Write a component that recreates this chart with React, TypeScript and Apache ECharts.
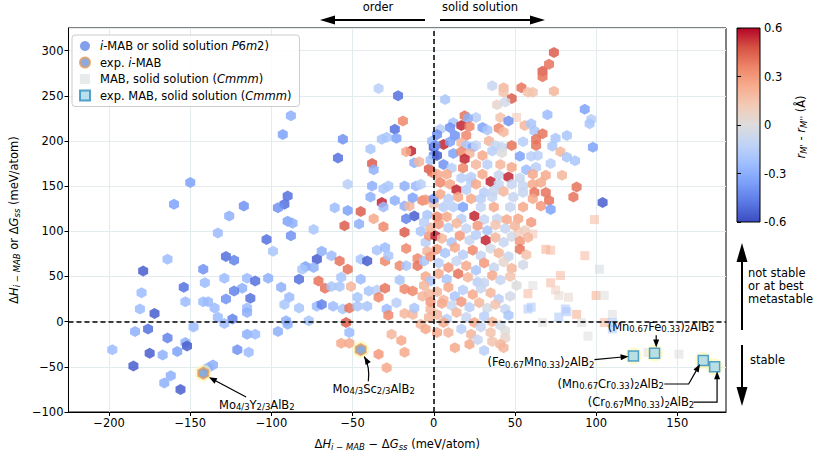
import React, { useEffect, useRef } from "react";
import * as echarts from "echarts";

// ---------- data ----------
const xTickValues = [-200, -150, -100, -50, 0, 50, 100, 150];
const colorbarTickLabels = ["-0.6", "-0.3", "0", "0.3", "0.6"];
const coolwarm = ["#3b4cc0", "#5a78e4", "#7b9ff9", "#9ebeff", "#c0d4f5", "#dddcdc", "#f2cbb7", "#f7ac8e", "#ee8468", "#d65244", "#b40426"];

// [ΔH_i-MAB − ΔG_ss, ΔH_i-MAB or ΔG_ss, r_M' − r_M'']
const iMabLeft = [
  [-150,154,-0.35],[-160,130,-0.35],[-126,117,-0.3],[-117,128,-0.4],
  [-133,98,-0.25],[-164,69,-0.25],[-179,56,-0.55],[-128,72,-0.5],[-123,68,-0.45],[-142,58,-0.4],[-129,48,-0.25],[-115,48,-0.25],[-141,43,-0.25],[-154,38,-0.5],[-118,37,-0.3],[-180,32,-0.25],[-123,34,-0.45],[-153,22,-0.25],[-142,22,-0.25],[-139,22,-0.25],[-128,25,-0.4],[-113,26,-0.5],[-181,14,-0.25],[-172,9,-0.55],[-135,15,-0.25],[-115,15,-0.25],[-115,10,-0.3],[-133,5,-0.25],[-124,3,-0.45],[-129,-2,-0.25],[-148,-6,-0.25],[-176,-8,-0.5],[-184,-11,-0.3],[-164,-18,-0.45],[-115,-14,-0.3],[-153,-23,-0.3],[-152,-27,-0.55],[-198,-31,-0.25],[-175,-35,-0.55],[-167,-37,-0.3],[-158,-33,-0.35],[-121,-31,-0.4],[-114,-34,-0.25],[-185,-49,-0.55],[-136,-48,-0.3],[-139,-51,-0.3],[-162,-60,-0.3],[-166,-68,-0.3],[-156,-75,-0.55],
];
const iMabMidUpper = [
  [-34,258,-0.15],[-22,250,-0.5],[-88,228,-0.3],[-93,207,-0.35],[-19,222,0.35],[-24,213,-0.5],[-56,202,-0.4],[-32,202,-0.2],[-29,204,-0.2],[-23,203,-0.35],[-39,191,-0.2],[-59,181,-0.5],[-14,189,0.55],[-17,188,0.25],[-38,175,0.45],[-37,168,-0.3],[-12,176,-0.3],[-9,177,0.2],[-3,169,0.45],[-1,165,0.4],[-53,152,-0.15],[-38,150,-0.3],[-31,147,-0.2],[-28,150,-0.2],[-18,150,-0.3],[-11,150,-0.25],[-8,152,-0.15],[-90,139,-0.5],[-92,130,-0.5],[-96,126,-0.4],[-61,126,-0.25],[-53,123,-0.35],[-45,122,0.45],[-39,138,-0.3],[-32,132,0.55],[-31,127,-0.25],[-24,134,-0.3],[-18,128,-0.3],[-15,128,0.2],[-13,137,-0.35],[-12,117,-0.55],[-17,114,-0.45],[-7,134,0.35],[-5,135,0.3],[0,130,0.15],[-90,111,-0.35],[-87,109,-0.3],[-37,114,0.25],[-46,108,-0.3],[-55,106,0.45],[-4,118,-0.2],[-1,200,-0.25],[0,193,-0.55],[0,184,-0.4],[-2,179,-0.2],
];
const iMabMidLower = [
  [-103,91,-0.5],[-88,95,-0.4],[-74,102,-0.2],[-99,78,-0.2],[-69,78,-0.3],[-72,69,-0.55],[-63,73,-0.25],[-58,67,0.4],[-45,69,-0.2],[-41,67,-0.55],[-35,79,-0.2],[-30,82,-0.25],[-30,67,0.35],[-28,73,-0.2],[-31,105,0.35],[-21,62,0.35],[-17,81,0.35],[-17,62,-0.2],[-10,70,0.35],[-10,62,0.4],[-6,67,-0.2],[-18,99,0.45],[-79,61,-0.35],[-74,60,-0.3],[-81,58,-0.2],[-83,47,-0.5],[-71,45,0.4],[-67,37,0.4],[-63,39,-0.2],[-58,39,-0.2],[-57,49,-0.2],[-53,58,0.4],[-51,39,0.2],[-45,47,-0.25],[-40,34,-0.2],[-35,35,-0.15],[-30,37,0.4],[-21,46,-0.2],[-18,36,0.35],[-13,34,0.35],[-7,28,0.2],[-3,31,0.2],[-102,48,-0.3],[-110,45,-0.5],[-94,38,-0.3],[-89,27,-0.25],[-92,19,-0.2],[-83,15,-0.2],[-72,17,-0.25],[-69,19,-0.45],[-62,17,-0.25],[-56,14,-0.2],[-52,15,0.4],[-47,27,-0.2],[-47,17,-0.2],[-41,17,-0.2],[-34,27,0.35],[-29,14,-0.25],[-23,21,-0.15],[-28,7,0.35],[-18,9,0.2],[-13,8,0.2],[-12,15,-0.2],[-2,14,0.2],[-3,5,0.2],[-91,1,-0.3],[-90,-3,-0.3],[-77,1,-0.2],[-96,-11,-0.3],[-110,-14,-0.25],[-54,-1,0.45],[-52,-12,-0.25],[-8,-3,0.2],[-26,-14,0.2],[-20,-21,0.25],[-57,-24,0.25],[-52,-24,0.25],[-34,-36,0.3],[-18,-34,0.25],[-29,-51,0.25],
  [-5,88,-0.15],[-3,95,0.3],[-8,100,-0.2],[-2,104,0.2],[-6,110,-0.15],[-4,78,0.2],[-2,72,0.3],[-5,50,0.25],[-2,45,-0.2],[-6,40,0.2],[-2,22,0.3],[-5,-8,0.25],
];
const iMabRightUpper = [
  [74,298,0.45],[71,285,0.4],[67,277,0.45],[67,271,0.4],[36,261,-0.1],[43,259,0.2],[43,254,0.15],[54,259,0.4],[58,254,0.15],[61,254,0.15],[74,255,0.2],[48,247,0.45],[7,246,-0.2],[39,240,0.05],[44,243,-0.05],[93,235,-0.35],[97,224,-0.15],[96,219,-0.2],[70,229,-0.25],[19,228,0.4],[26,226,-0.15],[21,225,-0.3],[41,226,0.15],[46,222,-0.4],[12,220,-0.2],[17,217,0.55],[22,216,0.35],[10,215,-0.4],[30,215,-0.35],[33,212,-0.2],[56,217,0.2],[60,219,-0.2],[40,214,0.35],[43,210,0.2],[62,211,-0.2],[67,208,0.4],[82,206,-0.2],[75,203,-0.2],[4,213,-0.15],[13,206,-0.4],[20,206,0.35],[2,207,-0.4],[63,202,0.4],[6,196,0.55],[1,195,-0.4],[10,199,-0.35],[17,198,0.2],[20,195,-0.2],[24,193,-0.35],[26,195,-0.1],[34,200,0.2],[38,195,-0.1],[42,193,-0.1],[48,195,0.4],[55,199,-0.15],[63,195,0.4],[73,194,-0.2],[98,193,-0.35],[2,184,-0.55],[12,186,-0.35],[17,188,0.35],[22,186,0.2],[30,184,0.25],[36,189,-0.15],[42,187,0.0],[53,183,-0.35],[60,183,-0.15],[64,184,-0.15],[78,188,0.2],[82,182,-0.2],[87,178,-0.2],[19,180,0.55],[6,174,-0.4],[11,170,-0.15],[18,170,0.35],[26,174,0.2],[33,174,-0.15],[41,174,0.2],[48,171,0.25],[57,168,-0.25],[63,171,-0.15],[72,175,-0.15],[2,163,0.25],[8,163,0.25],[17,159,-0.15],[23,160,-0.15],[30,163,0.25],[40,162,-0.1],[46,160,0.55],[53,159,-0.1],[61,163,0.25],[69,162,0.25],[79,162,0.2],[4,154,0.35],[10,152,0.25],[23,155,-0.15],[26,152,0.25],[35,155,0.55],[40,152,-0.1],[48,152,-0.1],[55,150,-0.1],[61,152,0.25],[66,154,0.25],[88,149,0.4],[14,146,0.55],[20,146,-0.15],[31,143,-0.15],[37,145,-0.1],[43,144,0.2],[55,143,-0.1],[62,143,0.4],[69,143,0.4],[86,138,0.4],[0,136,-0.4],[4,141,0.25],[9,136,-0.15],[15,138,0.25],[23,136,0.25],[29,136,-0.15],[36,138,-0.1],[49,138,-0.1],[61,136,0.25],[71,134,0.4],[104,132,-0.55],[6,127,-0.15],[12,127,-0.15],[18,127,-0.35],[29,127,-0.1],[37,127,0.25],[47,127,-0.1],[55,127,0.25],[66,128,0.3],[72,124,-0.35],[2,116,0.35],[8,116,0.25],[17,114,-0.15],[25,117,0.55],[31,113,-0.1],[39,114,-0.1],[45,113,0.25],[52,114,0.25],[60,110,0.3],
];
const iMabCluster = [
  [3,108,0.3],[9,104,-0.15],[14,109,0.2],[20,103,-0.1],[27,106,0.3],[33,101,-0.2],[38,107,0.15],[44,103,-0.1],[50,106,0.2],[56,101,0.1],[1,95,0.55],[32,90,0.55],
  [5,92,0.2],[11,88,-0.2],[16,95,0.3],[22,90,-0.1],[26,96,-0.15],[38,93,0.2],[43,88,-0.1],[48,94,-0.05],[53,89,0.3],[58,93,0.2],
  [2,80,0.3],[7,76,-0.2],[13,82,0.25],[18,74,-0.15],[24,79,0.35],[29,73,-0.1],[35,81,-0.05],[40,76,0.2],[46,72,-0.1],[53,80,0.4],[57,74,0.15],
  [3,65,-0.15],[9,60,0.3],[14,67,-0.1],[20,62,0.25],[26,57,-0.2],[31,65,0.3],[37,60,-0.1],[43,66,0.05],[48,59,0.2],[55,63,-0.05],
  [3,53,0.25],[15,53,0.4],[8,47,-0.2],[21,49,0.2],[27,44,-0.15],[31,43,-0.1],[36,51,0.25],[41,46,-0.1],[47,50,0.15],[51,40,0.0],[9,38,0.25],[13,28,-0.2],[47,28,-0.05],
  [2,33,0.2],[18,35,-0.15],[24,30,0.25],[29,37,-0.1],[35,32,0.2],[40,25,-0.15],[6,24,0.2],[11,18,-0.1],[17,22,0.3],[22,16,-0.15],[28,21,0.2],[33,15,-0.05],[38,19,0.15],[44,14,-0.1],[5,20,0.25],[46,7,-0.2],
  [2,8,0.2],[8,3,-0.15],[14,10,0.2],[20,5,-0.1],[25,-1,0.25],[31,6,-0.15],[36,0,0.2],[41,-4,-0.05],[6,-1,0.25],[2,-12,0.25],[9,-12,0.2],[17,-8,-0.15],[23,-14,0.2],[29,-6,-0.1],[35,-12,0.15],[44,-10,0.0],[44,-18,0.05],
  [41,-25,0.2],[43,-29,0.2],[31,-32,-0.15],[22,-25,0.25],[13,-29,0.25],[27,-20,-0.1],[36,-22,0.15],
];
const mabPoints = [
  [51,226,0.15],[99,113,0.2],[52,98,0.2],[61,97,0.15],[69,80,0.25],[72,79,0.2],[93,73,0.2],[102,58,-0.05],[78,51,0.2],[72,43,0.2],[61,40,0.0],[75,35,0.1],[77,29,0.05],[83,27,0.05],[58,31,0.2],[100,29,0.25],[105,29,0.0],[60,16,-0.2],[58,14,-0.2],[81,14,-0.2],[82,11,-0.2],[77,5,-0.2],[88,8,0.25],[67,-1,0.0],[91,-1,0.0],[105,-1,0.2],[110,8,0.0],[110,-1,-0.2],[110,-8,-0.2],[95,-16,0.0],[132,-34,0.0],[151,-36,0.0],
];
const expIMab = [[-142,-57,-0.3],[-45,-31,-0.3]];
const expMab = [[123,-38,0],[136,-35,0],[166,-43,0],[173,-50,0]];

// annotation anchors in data coordinates
const annotations = [
  { text: "{n|Mo}{s|4/3}{n|Y}{s|2/3}{n|AlB}{s|2}", at: [-109, -92], arrow: [[-115.6, -83.5], [-138.5, -61.5]] },
  { text: "{n|Mo}{s|4/3}{n|Sc}{s|2/3}{n|AlB}{s|2}", at: [-37, -74], curve: [[-40.3, -66], [-39.2, -50], [-42.8, -38.5]] },
  { text: "{n|(Mn}{s|0.67}{n|Fe}{s|0.33}{n|)}{s|2}{n|AlB}{s|2}", at: [140, -5.5], arrow: [[137, -15], [137, -28.5]] },
  { text: "{n|(Fe}{s|0.67}{n|Mn}{s|0.33}{n|)}{s|2}{n|AlB}{s|2}", at: [66, -45], arrow: [[99, -42], [120, -38.5]] },
  { text: "{n|(Mn}{s|0.67}{n|Cr}{s|0.33}{n|)}{s|2}{n|AlB}{s|2}", at: [109, -69], arrow: [[142, -69], [157, -69], [164, -47]] },
  { text: "{n|(Cr}{s|0.67}{n|Mn}{s|0.33}{n|)}{s|2}{n|AlB}{s|2}", at: [127.6, -89], arrow: [[160, -89], [174.5, -89], [174.5, -55]] },
];

const FONT = "DejaVu Sans";
const FS = 11.5;
const hexPath = "path://M0,-10L8.66,-5L8.66,5L0,10L-8.66,5L-8.66,-5Z";
const squarePath = "path://M0,0L10,0L10,10L0,10Z";

const richBase = {
  n: { fontFamily: FONT, fontSize: FS, lineHeight: 14, color: "#000" },
  i: { fontFamily: FONT, fontSize: FS, lineHeight: 14, fontStyle: "italic", color: "#000" },
  s: { fontFamily: FONT, fontSize: 8.5, lineHeight: 6, verticalAlign: "bottom", color: "#000" },
  si: { fontFamily: FONT, fontSize: 8.5, lineHeight: 6, verticalAlign: "bottom", fontStyle: "italic", color: "#000" },
};

const legendNames: Record<string, string> = {
  iMAB: "{i|i}{n|-MAB or solid solution }{i|P}{n|6\u0304}{i|m}{n|2)}",
  expiMAB: "{n|exp. }{i|i}{n|-MAB}",
  MAB: "{n|MAB, solid solution (}{i|Cmmm}{n|)}",
  expMAB: "{n|exp. MAB, solid solution (}{i|Cmmm}{n|)}",
};

function minusFmt(v: number) {
  return v < 0 ? "\u2212" + Math.abs(v) : String(v);
}

function arrowHead(tip: number[], from: number[], len: number, w: number) {
  const dx = tip[0] - from[0], dy = tip[1] - from[1];
  const d = Math.hypot(dx, dy) || 1;
  const ux = dx / d, uy = dy / d;
  const bx = tip[0] - ux * len, by = tip[1] - uy * len;
  return {
    type: "polygon", silent: true, z: 100,
    shape: { points: [[tip[0], tip[1]], [bx - uy * w / 2, by + ux * w / 2], [bx + uy * w / 2, by - ux * w / 2]] },
    style: { fill: "#000" },
  };
}

function arrowLine(pts: number[][], len: number, w: number, lw: number) {
  const n = pts.length;
  const tip = pts[n - 1], prev = pts[n - 2];
  const dx = tip[0] - prev[0], dy = tip[1] - prev[1];
  const d = Math.hypot(dx, dy) || 1;
  const end = [tip[0] - (dx / d) * len * 0.8, tip[1] - (dy / d) * len * 0.8];
  const linePts = pts.slice(0, n - 1).concat([end]);
  return [
    { type: "polyline", silent: true, z: 100, shape: { points: linePts }, style: { stroke: "#000", lineWidth: lw, fill: null } },
    arrowHead(tip, prev, len, w),
  ];
}

export default function App() {
  const ref = useRef<HTMLDivElement>(null);
  useEffect(() => {
    if (!ref.current) return;
    document.body.style.margin = "0";
    const chart = echarts.init(ref.current, null, { renderer: "svg" });
    const iMabAll = [...iMabLeft, ...iMabMidUpper, ...iMabMidLower, ...iMabRightUpper, ...iMabCluster];
    const option: any = {
      animation: false,
      textStyle: { fontFamily: FONT },
      grid: [
        { left: 67, right: 91, top: 28, bottom: 42, show: true, borderColor: "#000", borderWidth: 1, backgroundColor: "transparent" },
        {
          left: 737, width: 23, top: 28, height: 194, show: true, borderColor: "#000", borderWidth: 1,
          backgroundColor: new echarts.graphic.LinearGradient(0, 0, 0, 1, coolwarm.slice().reverse().map((c, k) => ({ offset: k / (coolwarm.length - 1), color: c }))),
        },
      ],
      xAxis: [
        {
          type: "value", min: -225, max: 180, gridIndex: 0,
          axisLine: { show: true, onZero: false, lineStyle: { color: "#000" } },
          axisTick: { show: true, length: 4, customValues: xTickValues, lineStyle: { color: "#000" } },
          axisLabel: { customValues: xTickValues, formatter: minusFmt, color: "#000", fontSize: FS, fontFamily: FONT, margin: 5 },
          splitLine: { show: true, lineStyle: { color: "#e2ebee", width: 1 } },
          name: "{n|Δ}{i|H}{si|i − MAB}{n| − Δ}{i|G}{si|ss}{n| (meV/atom)}",
          nameLocation: "middle", nameGap: 25,
          nameTextStyle: { rich: richBase },
        },
        { type: "value", gridIndex: 1, show: false, min: 0, max: 1 },
      ],
      yAxis: [
        {
          type: "value", min: -100, max: 325, interval: 50, gridIndex: 0,
          axisLine: { show: true, onZero: false, lineStyle: { color: "#000" } },
          axisTick: { show: true, length: 4, lineStyle: { color: "#000" } },
          axisLabel: { formatter: minusFmt, color: "#000", fontSize: FS, fontFamily: FONT, margin: 5, showMaxLabel: false },
          splitLine: { show: true, lineStyle: { color: "#e2ebee", width: 1 } },
          name: "{n|Δ}{i|H}{si|i − MAB}{n| or Δ}{i|G}{si|ss}{n| (meV/atom)}",
          nameLocation: "middle", nameGap: 40, nameRotate: 90,
          nameTextStyle: { rich: richBase },
        },
        {
          type: "value", gridIndex: 1, position: "right", min: -0.6, max: 0.6, interval: 0.3,
          axisLine: { show: false },
          axisTick: { show: true, length: 4, lineStyle: { color: "#000" } },
          splitLine: { show: false },
          axisLabel: {
            color: "#000", fontSize: FS, fontFamily: FONT, margin: 4,
            formatter: (v: number) => colorbarTickLabels[Math.round((v + 0.6) / 0.3)] ?? "",
          },
        },
      ],
      visualMap: {
        show: false, type: "continuous", min: -0.6, max: 0.6, dimension: 2, seriesIndex: [0, 1],
        inRange: { color: coolwarm },
      },
      legend: {
        left: 72, top: 35, orient: "vertical",
        backgroundColor: "rgba(255,255,255,0.85)", borderColor: "#cccccc", borderWidth: 1, borderRadius: 3,
        padding: [5, 8, 5, 7], itemWidth: 20, itemHeight: 10, itemGap: 4.5,
        data: [
          { name: "iMAB", icon: "circle" },
          { name: "expiMAB", icon: "circle" },
          { name: "MAB", icon: squarePath },
          { name: "expMAB", icon: squarePath },
        ],
        formatter: (name: string) => legendNames[name] || name,
        textStyle: { fontFamily: FONT, fontSize: FS, color: "#000", rich: richBase },
      },
      series: [
        {
          name: "MAB", type: "scatter", xAxisIndex: 0, yAxisIndex: 0, symbol: "rect", symbolSize: 9,
          itemStyle: { color: "#d6dbdc", opacity: 0.55 },
          data: mabPoints, z: 2,
        },
        {
          name: "iMAB", type: "scatter", xAxisIndex: 0, yAxisIndex: 0, symbol: hexPath, symbolSize: [10, 11],
          itemStyle: { color: "#6d8ee8", opacity: 0.85 },
          data: iMabAll, z: 3,
        },
        {
          name: "halo", type: "scatter", xAxisIndex: 0, yAxisIndex: 0, symbol: "circle", symbolSize: 17,
          itemStyle: { color: "rgba(255,246,170,0.75)" }, silent: true,
          data: [...expIMab, ...expMab], z: 3,
        },
        {
          name: "expiMAB", type: "scatter", xAxisIndex: 0, yAxisIndex: 0, symbol: hexPath, symbolSize: [10, 11],
          itemStyle: { color: "#6f97d8", borderColor: "#e69a5c", borderWidth: 2 },
          data: expIMab, z: 4,
        },
        {
          name: "expMAB", type: "scatter", xAxisIndex: 0, yAxisIndex: 0, symbol: "rect", symbolSize: 10,
          itemStyle: { color: "#a6d8ea", borderColor: "#2e8dbf", borderWidth: 1.5 },
          data: expMab, z: 4,
          markLine: {
            silent: true, symbol: "none", animation: false,
            label: { show: false },
            lineStyle: { color: "#000", type: [5, 3], width: 1.5 },
            data: [{ xAxis: 0 }, { yAxis: 0 }],
          },
        },
      ],
    };
    chart.setOption(option);

    const toPx = (p: number[]) => chart.convertToPixel({ gridIndex: 0 }, p) as number[];
    const graphics: any[] = [];
    annotations.forEach((a) => {
      const c = toPx(a.at);
      graphics.push({
        type: "text", silent: true, z: 100, x: c[0], y: c[1],
        style: { text: a.text, rich: richBase, align: "center", verticalAlign: "middle" },
      });
      if (a.arrow) graphics.push(...arrowLine(a.arrow.map(toPx), 8, 6, 1.2));
      if (a.curve) {
        const [p1, cp, p2] = a.curve.map(toPx);
        graphics.push({ type: "bezierCurve", silent: true, z: 100, shape: { x1: p1[0], y1: p1[1], cpx1: cp[0], cpy1: cp[1], x2: p2[0], y2: p2[1] }, style: { stroke: "#000", lineWidth: 1.2, fill: null } });
        graphics.push(arrowHead(p2, cp, 8, 6));
      }
    });
    // top direction arrows
    graphics.push(...arrowLine([[425, 20], [320, 20]], 15, 9, 2));
    graphics.push(...arrowLine([[440, 20], [545, 20]], 15, 9, 2));
    graphics.push({ type: "text", silent: true, x: 378, y: 7, style: { text: "order", font: `${FS}px "${FONT}"`, fill: "#000", align: "center", verticalAlign: "middle" } });
    graphics.push({ type: "text", silent: true, x: 480, y: 7, style: { text: "solid solution", font: `${FS}px "${FONT}"`, fill: "#000", align: "center", verticalAlign: "middle" } });
    // right stability arrows
    graphics.push(...arrowLine([[742, 330], [742, 243]], 19, 11, 2));
    graphics.push(...arrowLine([[742, 345], [742, 406]], 19, 11, 2));
    graphics.push({ type: "text", silent: true, x: 748, y: 266, style: { text: "not stable\nor at best\nmetastable", font: `${FS}px "${FONT}"`, lineHeight: 13, fill: "#000", align: "left", verticalAlign: "top" } });
    graphics.push({ type: "text", silent: true, x: 750, y: 360, style: { text: "stable", font: `${FS}px "${FONT}"`, fill: "#000", align: "left", verticalAlign: "middle" } });
    // colorbar label
    graphics.push({
      type: "text", silent: true, x: 801, y: 127, rotation: Math.PI / 2,
      style: { text: "{i|r}{si|M'}{n| - }{i|r}{si|M''}{n| (Å)}", rich: richBase, align: "center", verticalAlign: "middle" },
    });
    chart.setOption({ graphic: graphics });

    return () => chart.dispose();
  }, []);
  return <div ref={ref} style={{ width: 817, height: 456 }} />;
}
